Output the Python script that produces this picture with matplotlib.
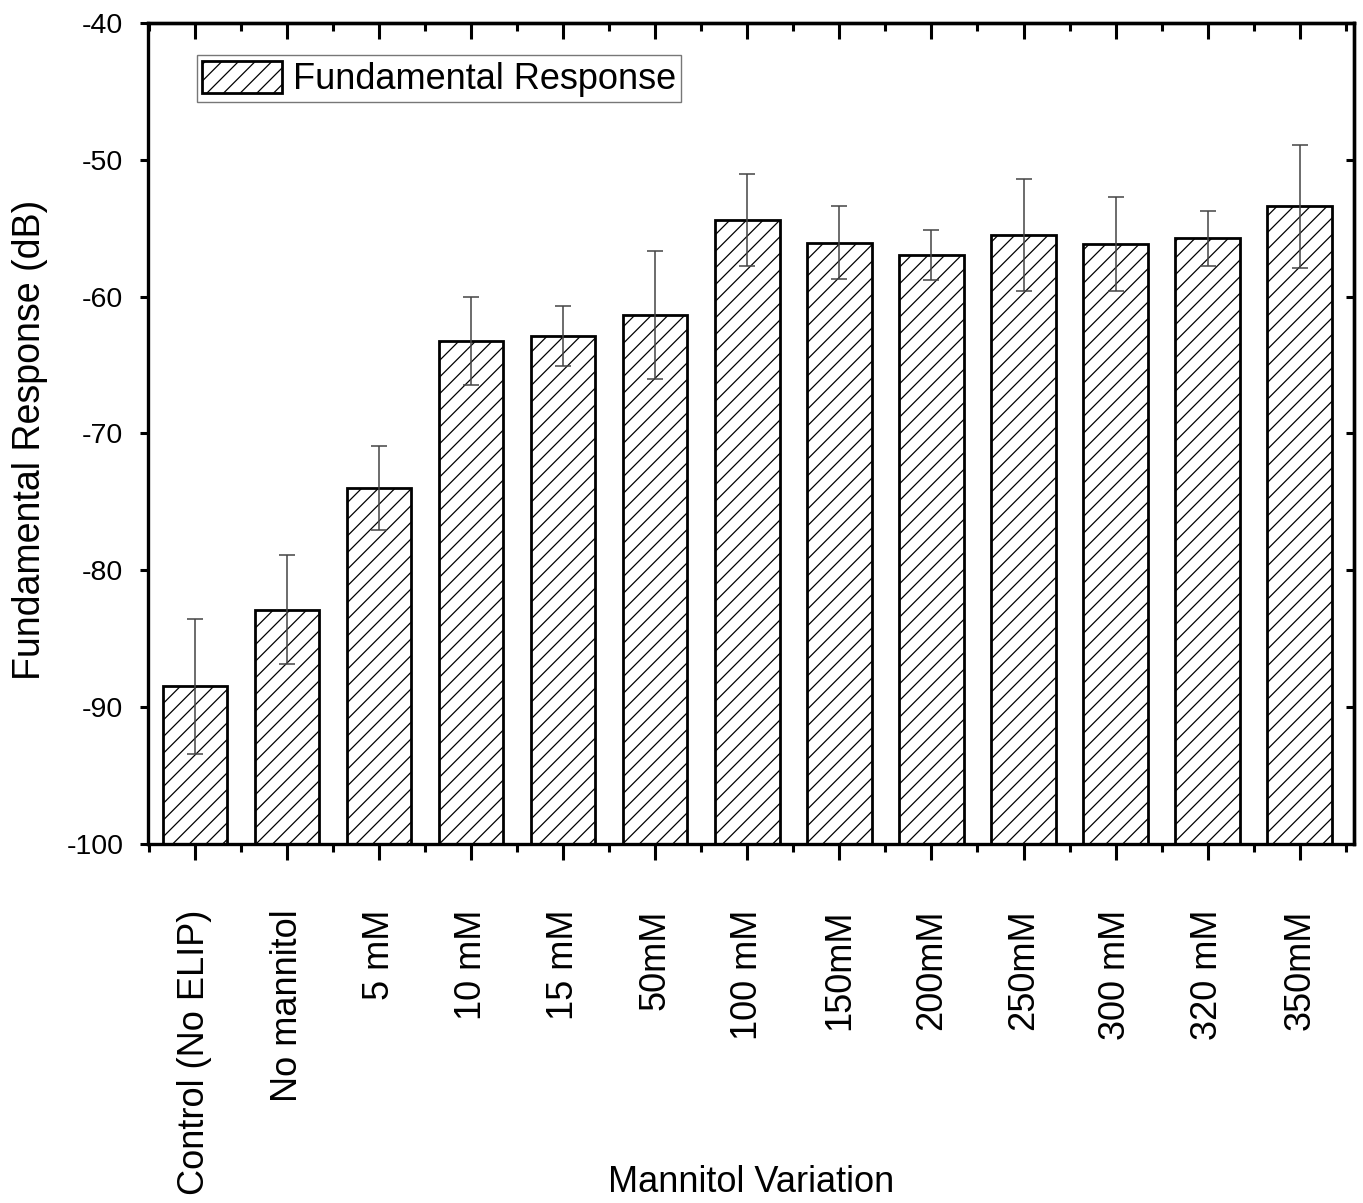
import matplotlib
matplotlib.use("Agg")
import matplotlib.pyplot as plt
import numpy as np

categories = ["Control (No ELIP)", "No mannitol", "5 mM", "10 mM", "15 mM", "50mM",
              "100 mM", "150mM", "200mM", "250mM", "300 mM", "320 mM", "350mM"]
response = [-88.5, -82.9, -74.0, -63.25, -62.9, -61.35, -54.4, -56.05, -56.95,
            -55.5, -56.15, -55.75, -53.4]
errors = [4.95, 4.0, 3.07, 3.25, 2.2, 4.7, 3.35, 2.7, 1.85, 4.07, 3.46, 2.02, 4.52]
yticks = [-100, -90, -80, -70, -60, -50, -40]
baseline = -100

plt.rcParams['font.family'] = ['Liberation Sans', 'DejaVu Sans']
plt.rcParams['hatch.linewidth'] = 0.9

fig = plt.figure(figsize=(13.63, 12.03), dpi=100)
ax = fig.add_axes([0.1086, 0.2988, 0.8848, 0.682])

x = np.arange(len(categories))
heights = np.array(response) - baseline
ax.bar(x, heights, width=0.7, bottom=baseline, color='white',
       edgecolor='black', linewidth=2.0, hatch='//', label='Fundamental Response',
       zorder=2)
ax.errorbar(x, response, yerr=errors, fmt='none', ecolor='#444444', elinewidth=1.1,
            capsize=5.8, capthick=1.1, zorder=3)

ax.set_xlim(-0.51, 12.59)
ax.set_ylim(-100, -40)
ax.set_yticks(yticks)
ax.set_yticklabels([str(v) for v in yticks], fontsize=20.5)
ax.set_xticks(x)
ax.set_xticklabels(categories, rotation=90, fontsize=26)
ax.set_xticks(np.arange(-0.5, 13, 1.0), minor=True)

for s in ax.spines.values():
    s.set_linewidth(2.4)

ax.tick_params(axis='x', which='major', direction='out', length=11.5, width=2.2,
               pad=36, top=False)
ax.tick_params(axis='x', which='minor', direction='out', length=5.8, width=2.2, top=False)
ax.tick_params(axis='y', which='major', direction='out', length=5.8, width=2.2, pad=12)

# mirrored inward ticks on top and right
axt = ax.secondary_xaxis('top')
axt.set_xticks(x)
axt.set_xticks(np.arange(-0.5, 13, 1.0), minor=True)
axt.tick_params(axis='x', which='major', direction='in', length=11.5, width=2.2,
                labeltop=False)
axt.tick_params(axis='x', which='minor', direction='in', length=5.8, width=2.2)
axt.spines['top'].set_linewidth(2.4)
axr = ax.secondary_yaxis('right')
axr.set_yticks(yticks)
axr.tick_params(axis='y', which='major', direction='in', length=5.8, width=2.2,
                labelright=False)
axr.spines['right'].set_linewidth(2.4)

ax.set_xlabel('Mannitol Variation', fontsize=26)
ax.xaxis.set_label_coords(0.5, -0.392)
ax.set_ylabel('Fundamental Response (dB)', fontsize=27)
ax.yaxis.set_label_coords(-0.083, 0.492)

leg = ax.legend(loc='upper left', bbox_to_anchor=(0.0406, 0.961), borderaxespad=0,
                fontsize=26, frameon=True, fancybox=False, handlelength=2.2,
                handleheight=1.0, handletextpad=0.3, borderpad=0.15)
leg.get_frame().set_edgecolor('#555555')
leg.get_frame().set_linewidth(1.0)

fig.savefig('out.png', dpi=100)
